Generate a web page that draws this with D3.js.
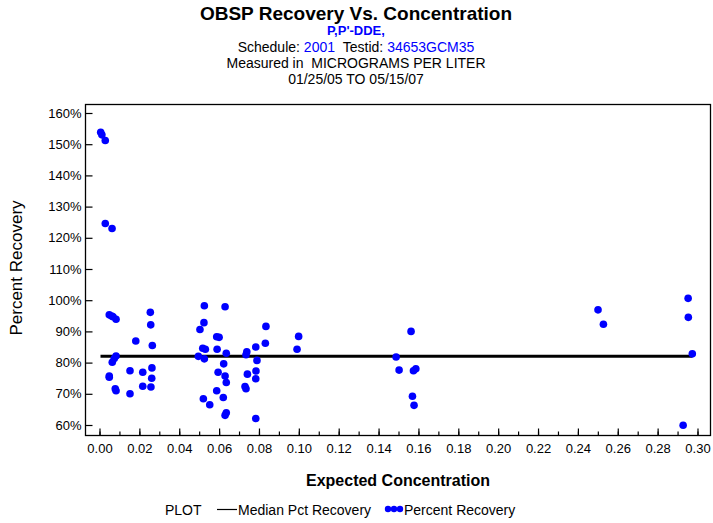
<!DOCTYPE html>
<html><head><meta charset="utf-8">
<script src="https://cdn.jsdelivr.net/npm/d3@7/dist/d3.min.js"></script>
<style>
body{margin:0;background:#fff;}
text{font-family:"Liberation Sans",Arial,sans-serif;}
</style></head>
<body><svg id="c" width="713" height="523"></svg>
<script>
const expectedConc = [0.0006,0.0012,0.0029,0.0029,0.0063,
 0.0049,0.0061,0.0068,0.0083,0.0255,0.0257,0.0182,0.0265,0.0083,0.0074,0.0064,0.0049,0.0049,0.0153,0.0217,0.0263,0.0262,0.0079,0.0083,0.0153,0.0217,0.0258,
 0.0526,0.0630,0.0524,0.0504,0.0835,0.0588,0.0600,0.0999,0.0518,0.0531,0.0590,0.0784,0.0832,0.0991,0.0496,0.0526,0.0636,0.0739,0.0735,0.0790,0.0623,0.0595,0.0630,0.0636,0.0742,0.0785,0.0784,0.0588,0.0730,0.0735,0.0521,0.0621,0.0553,0.0636,0.0630,0.0784,
 0.1563,0.1488,0.1503,0.1575,0.1587,0.1570,0.1578,
 0.2501,0.2528,0.2953,0.2954,0.2974,0.2928];
const pctRecovery = [153.8,153.0,151.2,124.6,123.0,
 95.3,94.9,94.7,93.9,96.1,92.1,86.9,85.5,82.1,81.3,80.1,75.7,75.3,77.4,76.9,78.3,75.0,71.6,71.0,70.0,72.4,72.2,
 98.2,97.9,92.8,90.6,91.6,88.3,88.1,88.4,84.6,84.3,84.3,85.0,86.2,84.3,82.0,81.2,83.0,83.5,82.5,80.7,79.6,76.9,75.7,73.6,76.3,77.3,74.8,71.0,72.3,71.6,68.4,68.8,66.5,63.9,63.1,62.1,
 90.0,81.8,77.6,77.4,78.0,69.2,66.3,
 96.9,92.3,100.6,94.5,82.8,59.9];
const medianPct = 82.0;
const medianRange = [0.0005, 0.2974];
const xTickVals = d3.range(0, 0.3001, 0.01);
const xMajorVals = d3.range(0, 0.3001, 0.02);
const yTickVals = [60,70,80,90,100,110,120,130,140,150,160];
const titleLines = ["OBSP Recovery Vs. Concentration"];

const svg = d3.select("#c");
const x = d3.scaleLinear().domain([0, 0.30]).range([99.5, 697.5]);
const y = d3.scaleLinear().domain([60, 160]).range([425, 113]);
const L = 85, R = 710, T = 104, B = 435;

// titles
svg.append("text").attr("x",356).attr("y",20).attr("text-anchor","middle")
  .style("font-size","19px").style("font-weight","bold").text(titleLines[0]);
svg.append("text").attr("x",356).attr("y",34.5).attr("text-anchor","middle")
  .style("font-size","13px").style("font-weight","bold").attr("fill","#0000ff").text("P,P'-DDE,");
const t3 = svg.append("text").attr("x",356).attr("y",51.5).attr("text-anchor","middle").style("font-size","14px").attr("xml:space","preserve");
t3.append("tspan").text("Schedule: ");
t3.append("tspan").attr("fill","#0000ff").text("2001");
t3.append("tspan").text("\u00a0\u00a0Testid: ");
t3.append("tspan").attr("fill","#0000ff").text("34653GCM35");
svg.append("text").attr("x",356).attr("y",67.5).attr("text-anchor","middle").style("font-size","14px")
  .text("Measured in \u00a0MICROGRAMS PER LITER");
svg.append("text").attr("x",356).attr("y",83.5).attr("text-anchor","middle").style("font-size","14px")
  .text("01/25/05 TO 05/15/07");

// frame
svg.append("rect").attr("x",L+0.5).attr("y",T+0.5).attr("width",R-L).attr("height",B-T)
  .attr("fill","none").attr("stroke","#000").attr("stroke-width",1.3);

// x axis minor ticks
const gxMinor = svg.append("g").attr("transform",`translate(0,${B+0.5})`)
  .call(d3.axisBottom(x).tickValues(xTickVals).tickSizeInner(-4).tickSizeOuter(0).tickFormat(""));
gxMinor.select(".domain").remove();
const gx = svg.append("g").attr("transform",`translate(0,${B+0.5})`)
  .call(d3.axisBottom(x).tickValues(xMajorVals).tickSizeInner(-7).tickSizeOuter(0).tickPadding(8).tickFormat(d3.format(".2f")));
gx.select(".domain").remove();
svg.selectAll("g.tick line").attr("stroke","#000").attr("stroke-width",1.2);
gx.selectAll("text").style("font-size","13px").style("font-family","'Liberation Sans',Arial,sans-serif");

// y axis
const gy = svg.append("g").attr("transform",`translate(${L+0.5},0)`)
  .call(d3.axisLeft(y).tickValues(yTickVals).tickSizeInner(-7).tickSizeOuter(0).tickPadding(4).tickFormat(d=>d+"%"));
gy.select(".domain").remove();
gy.selectAll("line").attr("stroke","#000").attr("stroke-width",1.2);
gy.selectAll("text").style("font-size","13px").style("font-family","'Liberation Sans',Arial,sans-serif");

// axis titles
svg.append("text").attr("transform","translate(22,268) rotate(-90)").attr("text-anchor","middle")
  .style("font-size","17px").text("Percent Recovery");
svg.append("text").attr("x",398).attr("y",486).attr("text-anchor","middle")
  .style("font-size","16px").style("font-weight","bold").text("Expected Concentration");

// median line
svg.append("line").attr("x1",x(medianRange[0])).attr("x2",x(medianRange[1]))
  .attr("y1",y(medianPct)).attr("y2",y(medianPct)).attr("stroke","#000").attr("stroke-width",3);

// points
svg.append("g").selectAll("circle").data(expectedConc).join("circle")
  .attr("cx",(d)=>x(d)).attr("cy",(d,i)=>y(pctRecovery[i])).attr("r",3.8).attr("fill","#0000ff");

// legend
svg.append("text").attr("x",165).attr("y",515).style("font-size","14px").text("PLOT");
svg.append("line").attr("x1",217).attr("x2",237).attr("y1",509.5).attr("y2",509.5).attr("stroke","#000").attr("stroke-width",1.2);
svg.append("text").attr("x",238).attr("y",515).style("font-size","14px").text("Median Pct Recovery");
svg.append("g").selectAll("circle").data([388,394,400]).join("circle")
  .attr("cx",d=>d).attr("cy",509).attr("r",3.2).attr("fill","#0000ff");
svg.append("text").attr("x",404).attr("y",515).style("font-size","14px").text("Percent Recovery");
</script></body></html>
